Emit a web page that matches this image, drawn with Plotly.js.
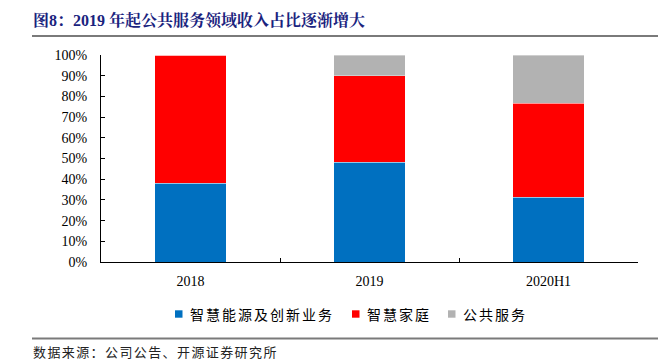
<!DOCTYPE html>
<html>
<head>
<meta charset="utf-8">
<script src="https://cdn.plot.ly/plotly-3.0.1.min.js"></script>
<style>html,body{margin:0;padding:0;background:#fff;}#chart{width:672px;height:363px;}</style>
</head>
<body>
<div id="chart"></div>
<script>
const categories = ["2018", "2019", "2020H1"];
const seriesNames = ["智慧能源及创新业务", "智慧家庭", "公共服务"];
const energyValues = [38.0, 48.2, 31.2];
const homeValues = [62.0, 41.8, 45.4];
const publicValues = [0.0, 10.0, 23.4];
const yTickValues = [0, 10, 20, 30, 40, 50, 60, 70, 80, 90, 100];
const titleText = "图8：2019 年起公共服务领域收入占比逐渐增大";
const sourceText = "数据来源：公司公告、开源证券研究所";

const colors = ["#0070C0", "#FF0000", "#B2B2B2"];
const seriesValues = [energyValues, homeValues, publicValues];

const traces = seriesValues.map((vals, i) => ({
  type: "bar", name: seriesNames[i], x: categories, y: vals, width: 0.4,
  marker: { color: colors[i], line: { color: "rgba(255,255,255,0.6)", width: 0.6 } },
  hoverinfo: "skip", showlegend: false
}));

const W = 672, H = 363;
const L = 101, R = 34, T = 55, B = 101;
const pw = W - L - R, ph = H - T - B;
const px = v => (v - L) / pw;
const py = v => (H - B - v) / ph;

// legend drawn from seriesNames / colors
const legendSquareX = [175, 352, 448];
const legendY = 314;
const legendAnn = [];
const legendShapes = [];
seriesNames.forEach((n, i) => {
  legendShapes.push({ type: "rect", xref: "paper", yref: "paper", layer: "above",
    x0: px(legendSquareX[i]), x1: px(legendSquareX[i] + 7.5),
    y0: py(legendY - 3.7), y1: py(legendY + 3.7),
    fillcolor: colors[i], line: { width: 0 } });
  legendAnn.push({ text: '<span style="letter-spacing:2px">' + n + '</span>', xref: "paper", yref: "paper",
    x: px(legendSquareX[i] + 12.5), xanchor: "left", y: py(legendY), yanchor: "middle", showarrow: false,
    font: { family: "Noto Sans CJK SC", size: 14, color: "#000" } });
});

// separator rules (title underline, source overline)
const ruleShape = (y0, y1) => ({ type: "rect", xref: "paper", yref: "paper", layer: "above",
  x0: px(32), x1: px(658), y0: py(y1), y1: py(y0),
  fillcolor: "#7a7a7a", line: { width: 0 } });

const layout = {
  width: W, height: H,
  margin: { l: L, r: R, t: T, b: B },
  paper_bgcolor: "#fff", plot_bgcolor: "#fff",
  barmode: "stack", showlegend: false,
  title: {
    text: titleText, x: 33 / W, xanchor: "left", xref: "container",
    y: 1 - 20.5 / H, yanchor: "middle", yref: "container",
    font: { family: "Liberation Serif, Noto Serif CJK SC, Noto Sans CJK SC", size: 16, color: "#1A237E", weight: "bold" }
  },
  xaxis: {
    type: "category", showline: true, linecolor: "#000", linewidth: 1,
    ticks: "inside", ticklen: 4, tickcolor: "#000", tickson: "boundaries",
    showgrid: false, zeroline: false,
    tickfont: { family: "Liberation Serif", size: 14, color: "#000" }, ticklabelstandoff: 6
  },
  yaxis: {
    range: [0, 100], tickvals: yTickValues, ticktext: yTickValues.map(v => v + "%"),
    showline: true, linecolor: "#000", linewidth: 1,
    ticks: "inside", ticklen: 4, tickcolor: "#000", showgrid: false, zeroline: false,
    tickfont: { family: "Liberation Serif", size: 14, color: "#000" }, ticklabelstandoff: 10
  },
  shapes: [ruleShape(35, 37), ruleShape(337.5, 339.5)].concat(legendShapes),
  annotations: [
    { text: '<span style="letter-spacing:1.4px">' + sourceText + '</span>', xref: "paper", yref: "paper", x: px(31), xanchor: "left", y: py(351.5), yanchor: "middle", showarrow: false,
      font: { family: "Noto Sans CJK SC", size: 13, color: "#222" } }
  ].concat(legendAnn)
};

Plotly.newPlot("chart", traces, layout, { displayModeBar: false, staticPlot: true });
</script>
</body>
</html>
